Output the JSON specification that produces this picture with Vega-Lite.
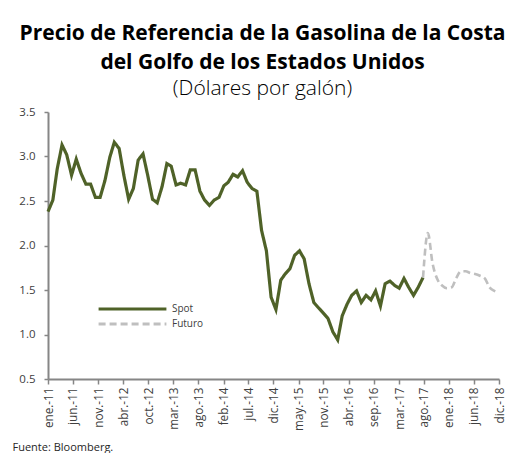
{
  "$schema": "https://vega.github.io/schema/vega-lite/v6.json",
  "width": 451,
  "height": 267,
  "autosize": {"type": "none"},
  "padding": {"left": 48, "top": 112, "right": 16, "bottom": 74},
  "background": "white",
  "title": {
    "text": ["Precio de Referencia de la Gasolina de la Costa", "del Golfo de los Estados Unidos"],
    "subtitle": "(Dólares por galón)",
    "anchor": "middle",
    "dx": -11,
    "offset": 7,
    "font": "Open Sans",
    "fontSize": 21,
    "fontWeight": "bold",
    "color": "#000000",
    "lineHeight": 29,
    "subtitleFont": "Open Sans",
    "subtitleFontSize": 21,
    "subtitleFontWeight": 300,
    "subtitleColor": "#000000",
    "subtitlePadding": 5
  },
  "data": {
    "values": [
      {"fecha": "2011-01-01", "serie": "Spot", "valor": 2.38},
      {"fecha": "2011-02-01", "serie": "Spot", "valor": 2.51},
      {"fecha": "2011-03-01", "serie": "Spot", "valor": 2.86},
      {"fecha": "2011-04-01", "serie": "Spot", "valor": 3.13},
      {"fecha": "2011-05-01", "serie": "Spot", "valor": 3.02},
      {"fecha": "2011-06-01", "serie": "Spot", "valor": 2.79},
      {"fecha": "2011-07-01", "serie": "Spot", "valor": 2.97},
      {"fecha": "2011-08-01", "serie": "Spot", "valor": 2.81},
      {"fecha": "2011-09-01", "serie": "Spot", "valor": 2.69},
      {"fecha": "2011-10-01", "serie": "Spot", "valor": 2.69},
      {"fecha": "2011-11-01", "serie": "Spot", "valor": 2.54},
      {"fecha": "2011-12-01", "serie": "Spot", "valor": 2.54},
      {"fecha": "2012-01-01", "serie": "Spot", "valor": 2.73},
      {"fecha": "2012-02-01", "serie": "Spot", "valor": 2.99},
      {"fecha": "2012-03-01", "serie": "Spot", "valor": 3.16},
      {"fecha": "2012-04-01", "serie": "Spot", "valor": 3.09},
      {"fecha": "2012-05-01", "serie": "Spot", "valor": 2.79},
      {"fecha": "2012-06-01", "serie": "Spot", "valor": 2.52},
      {"fecha": "2012-07-01", "serie": "Spot", "valor": 2.64},
      {"fecha": "2012-08-01", "serie": "Spot", "valor": 2.96},
      {"fecha": "2012-09-01", "serie": "Spot", "valor": 3.03},
      {"fecha": "2012-10-01", "serie": "Spot", "valor": 2.79},
      {"fecha": "2012-11-01", "serie": "Spot", "valor": 2.52},
      {"fecha": "2012-12-01", "serie": "Spot", "valor": 2.48},
      {"fecha": "2013-01-01", "serie": "Spot", "valor": 2.66},
      {"fecha": "2013-02-01", "serie": "Spot", "valor": 2.92},
      {"fecha": "2013-03-01", "serie": "Spot", "valor": 2.89},
      {"fecha": "2013-04-01", "serie": "Spot", "valor": 2.68},
      {"fecha": "2013-05-01", "serie": "Spot", "valor": 2.70},
      {"fecha": "2013-06-01", "serie": "Spot", "valor": 2.68},
      {"fecha": "2013-07-01", "serie": "Spot", "valor": 2.85},
      {"fecha": "2013-08-01", "serie": "Spot", "valor": 2.85},
      {"fecha": "2013-09-01", "serie": "Spot", "valor": 2.61},
      {"fecha": "2013-10-01", "serie": "Spot", "valor": 2.51},
      {"fecha": "2013-11-01", "serie": "Spot", "valor": 2.45},
      {"fecha": "2013-12-01", "serie": "Spot", "valor": 2.51},
      {"fecha": "2014-01-01", "serie": "Spot", "valor": 2.54},
      {"fecha": "2014-02-01", "serie": "Spot", "valor": 2.67},
      {"fecha": "2014-03-01", "serie": "Spot", "valor": 2.71},
      {"fecha": "2014-04-01", "serie": "Spot", "valor": 2.80},
      {"fecha": "2014-05-01", "serie": "Spot", "valor": 2.77},
      {"fecha": "2014-06-01", "serie": "Spot", "valor": 2.84},
      {"fecha": "2014-07-01", "serie": "Spot", "valor": 2.71},
      {"fecha": "2014-08-01", "serie": "Spot", "valor": 2.64},
      {"fecha": "2014-09-01", "serie": "Spot", "valor": 2.61},
      {"fecha": "2014-10-01", "serie": "Spot", "valor": 2.17},
      {"fecha": "2014-11-01", "serie": "Spot", "valor": 1.94},
      {"fecha": "2014-12-01", "serie": "Spot", "valor": 1.42},
      {"fecha": "2015-01-01", "serie": "Spot", "valor": 1.28},
      {"fecha": "2015-02-01", "serie": "Spot", "valor": 1.61},
      {"fecha": "2015-03-01", "serie": "Spot", "valor": 1.68},
      {"fecha": "2015-04-01", "serie": "Spot", "valor": 1.74},
      {"fecha": "2015-05-01", "serie": "Spot", "valor": 1.89},
      {"fecha": "2015-06-01", "serie": "Spot", "valor": 1.94},
      {"fecha": "2015-07-01", "serie": "Spot", "valor": 1.85},
      {"fecha": "2015-08-01", "serie": "Spot", "valor": 1.57},
      {"fecha": "2015-09-01", "serie": "Spot", "valor": 1.36},
      {"fecha": "2015-10-01", "serie": "Spot", "valor": 1.30},
      {"fecha": "2015-11-01", "serie": "Spot", "valor": 1.24},
      {"fecha": "2015-12-01", "serie": "Spot", "valor": 1.18},
      {"fecha": "2016-01-01", "serie": "Spot", "valor": 1.03},
      {"fecha": "2016-02-01", "serie": "Spot", "valor": 0.94},
      {"fecha": "2016-03-01", "serie": "Spot", "valor": 1.21},
      {"fecha": "2016-04-01", "serie": "Spot", "valor": 1.34},
      {"fecha": "2016-05-01", "serie": "Spot", "valor": 1.44},
      {"fecha": "2016-06-01", "serie": "Spot", "valor": 1.49},
      {"fecha": "2016-07-01", "serie": "Spot", "valor": 1.36},
      {"fecha": "2016-08-01", "serie": "Spot", "valor": 1.44},
      {"fecha": "2016-09-01", "serie": "Spot", "valor": 1.39},
      {"fecha": "2016-10-01", "serie": "Spot", "valor": 1.49},
      {"fecha": "2016-11-01", "serie": "Spot", "valor": 1.32},
      {"fecha": "2016-12-01", "serie": "Spot", "valor": 1.57},
      {"fecha": "2017-01-01", "serie": "Spot", "valor": 1.60},
      {"fecha": "2017-02-01", "serie": "Spot", "valor": 1.55},
      {"fecha": "2017-03-01", "serie": "Spot", "valor": 1.52},
      {"fecha": "2017-04-01", "serie": "Spot", "valor": 1.63},
      {"fecha": "2017-05-01", "serie": "Spot", "valor": 1.53},
      {"fecha": "2017-06-01", "serie": "Spot", "valor": 1.44},
      {"fecha": "2017-07-01", "serie": "Spot", "valor": 1.53},
      {"fecha": "2017-08-01", "serie": "Spot", "valor": 1.64},
      {"fecha": "2017-08-01", "serie": "Futuro", "valor": 1.64},
      {"fecha": "2017-09-01", "serie": "Futuro", "valor": 2.14},
      {"fecha": "2017-10-01", "serie": "Futuro", "valor": 1.80},
      {"fecha": "2017-11-01", "serie": "Futuro", "valor": 1.62},
      {"fecha": "2017-12-01", "serie": "Futuro", "valor": 1.55},
      {"fecha": "2018-01-01", "serie": "Futuro", "valor": 1.52},
      {"fecha": "2018-02-01", "serie": "Futuro", "valor": 1.53},
      {"fecha": "2018-03-01", "serie": "Futuro", "valor": 1.63},
      {"fecha": "2018-04-01", "serie": "Futuro", "valor": 1.71},
      {"fecha": "2018-05-01", "serie": "Futuro", "valor": 1.71},
      {"fecha": "2018-06-01", "serie": "Futuro", "valor": 1.69},
      {"fecha": "2018-07-01", "serie": "Futuro", "valor": 1.68},
      {"fecha": "2018-08-01", "serie": "Futuro", "valor": 1.66},
      {"fecha": "2018-09-01", "serie": "Futuro", "valor": 1.63},
      {"fecha": "2018-10-01", "serie": "Futuro", "valor": 1.53},
      {"fecha": "2018-11-01", "serie": "Futuro", "valor": 1.49},
      {"fecha": "2018-12-01", "serie": "Futuro", "valor": 1.47}
    ]
  },
  "encoding": {
    "x": {
      "field": "fecha",
      "type": "temporal",
      "scale": {
        "domain": [
          {"year": 2011, "month": 1, "date": 1, "utc": true},
          {"year": 2018, "month": 12, "date": 1, "utc": true}
        ]
      },
      "axis": {
        "values": [
          {"year": 2011, "month": 1, "date": 1, "utc": true},
          {"year": 2011, "month": 6, "date": 10, "utc": true},
          {"year": 2011, "month": 11, "date": 18, "utc": true},
          {"year": 2012, "month": 4, "date": 26, "utc": true},
          {"year": 2012, "month": 10, "date": 4, "utc": true},
          {"year": 2013, "month": 3, "date": 13, "utc": true},
          {"year": 2013, "month": 8, "date": 21, "utc": true},
          {"year": 2014, "month": 2, "date": 1, "utc": true},
          {"year": 2014, "month": 7, "date": 8, "utc": true},
          {"year": 2014, "month": 12, "date": 16, "utc": true},
          {"year": 2015, "month": 5, "date": 26, "utc": true},
          {"year": 2015, "month": 11, "date": 2, "utc": true},
          {"year": 2016, "month": 4, "date": 11, "utc": true},
          {"year": 2016, "month": 9, "date": 18, "utc": true},
          {"year": 2017, "month": 3, "date": 1, "utc": true},
          {"year": 2017, "month": 8, "date": 6, "utc": true},
          {"year": 2018, "month": 1, "date": 13, "utc": true},
          {"year": 2018, "month": 6, "date": 23, "utc": true},
          {"year": 2018, "month": 12, "date": 1, "utc": true}
        ],
        "labelExpr": "['ene','feb','mar','abr','may','jun','jul','ago','sep','oct','nov','dic'][utcmonth(datum.value)] + '.-' + utcFormat(datum.value, '%y')",
        "labelAngle": -90,
        "labelAlign": "right",
        "labelBaseline": "middle",
        "labelFont": "Open Sans",
        "labelFontSize": 11.7,
        "labelColor": "#404040",
        "labelPadding": 3,
        "labelOverlap": false,
        "labelFlush": false,
        "domainColor": "#868686",
        "domainWidth": 2,
        "tickColor": "#868686",
        "tickWidth": 1.5,
        "tickSize": 5,
        "grid": false,
        "title": "Fuente: Bloomberg.",
        "titleX": -36,
        "titleY": 71,
        "titleAlign": "left",
        "titleAnchor": "start",
        "titleBaseline": "alphabetic",
        "titleFont": "Open Sans",
        "titleFontSize": 11,
        "titleFontWeight": "normal",
        "titleColor": "#262626"
      }
    },
    "y": {
      "field": "valor",
      "type": "quantitative",
      "scale": {"domain": [0.5, 3.5], "nice": false, "zero": false},
      "axis": {
        "values": [0.5, 1, 1.5, 2, 2.5, 3, 3.5],
        "format": ".1f",
        "labelFont": "Open Sans",
        "labelFontSize": 11.5,
        "labelColor": "#404040",
        "labelPadding": 9,
        "domainColor": "#868686",
        "domainWidth": 2,
        "tickColor": "#868686",
        "tickWidth": 1.5,
        "tickSize": 4,
        "grid": false,
        "title": null
      }
    },
    "color": {
      "field": "serie",
      "type": "nominal",
      "scale": {"domain": ["Spot", "Futuro"], "range": ["#4F6228", "#BFBFBF"]},
      "legend": {
        "orient": "none",
        "legendX": 49,
        "legendY": 191,
        "title": null,
        "symbolType": "stroke",
        "symbolSize": 4600,
        "symbolStrokeWidth": 3,
        "clipHeight": 12,
        "labelFont": "Open Sans",
        "labelFontSize": 10,
        "labelColor": "#404040",
        "rowPadding": 3
      }
    },
    "strokeDash": {
      "field": "serie",
      "type": "nominal",
      "scale": {"domain": ["Spot", "Futuro"], "range": [[1, 0], [7, 4]]},
      "legend": {
        "orient": "none",
        "legendX": 49,
        "legendY": 191,
        "title": null,
        "symbolType": "stroke",
        "symbolSize": 4600,
        "symbolStrokeWidth": 3,
        "clipHeight": 12,
        "labelFont": "Open Sans",
        "labelFontSize": 10,
        "labelColor": "#404040",
        "rowPadding": 3
      }
    }
  },
  "layer": [
    {
      "transform": [{"filter": "datum.serie == 'Spot'"}],
      "mark": {"type": "line", "strokeWidth": 3.2, "interpolate": "linear"}
    },
    {
      "transform": [{"filter": "datum.serie == 'Futuro'"}],
      "mark": {"type": "line", "strokeWidth": 2.6, "interpolate": "monotone"}
    }
  ],
  "config": {
    "view": {"stroke": null}
  }
}
